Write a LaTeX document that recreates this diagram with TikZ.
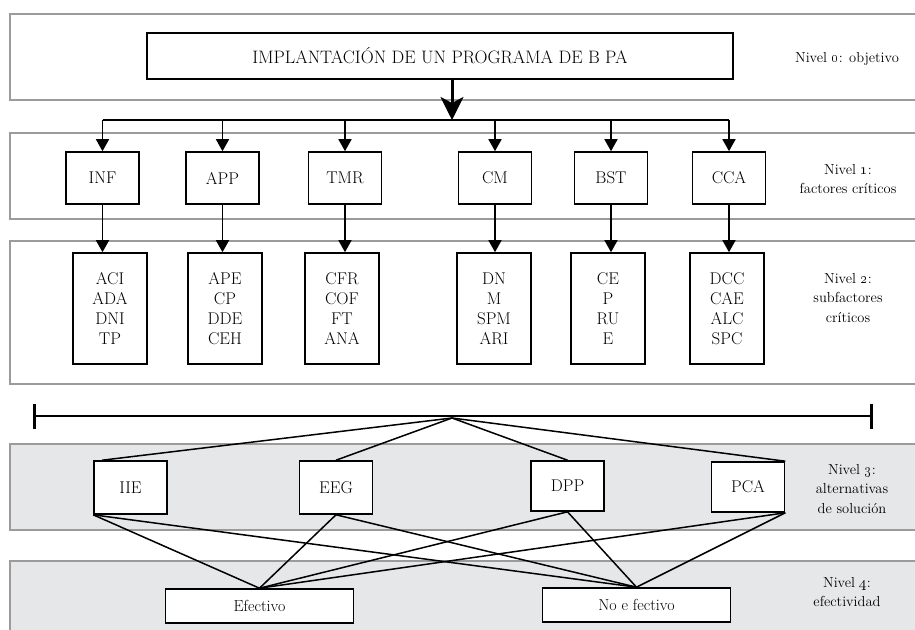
\RequirePackage{fix-cm}
\documentclass[tikz,border=0pt]{standalone}
\usepackage{tikz}
\usetikzlibrary{arrows.meta,calc,positioning}
\definecolor{bandL}{HTML}{9B9B9B}
\definecolor{bandF}{HTML}{E6E7E8}

\begin{document}
\begin{tikzpicture}[x=1pt,y=-1pt,
  band/.style={draw=bandL,line width=1.4pt},
  obj/.style={draw,line width=1.6pt,fill=white,minimum width=586pt,minimum height=46pt,font=\fontsize{18}{20}\selectfont},
  fac/.style={draw,line width=1.6pt,fill=white,minimum width=73pt,minimum height=52pt,inner sep=0pt,font=\fontsize{17}{20}\selectfont},
  sub/.style={fac,minimum width=74pt,minimum height=111pt,align=center},
  alt/.style={fac,minimum height=53pt},
  res/.style={fac,minimum height=34pt,minimum width=188pt,font=\fontsize{16}{18}\selectfont},
  lvl/.style={align=center,font=\fontsize{14.5}{19.5}\selectfont},
  arr/.style={-{Triangle[length=12pt,width=13pt]},line width=1.6pt},
  bigarr/.style={-{Stealth[length=23pt,width=23pt,inset=6pt]},line width=3pt},
  lnk/.style={line width=1.5pt}]
\useasboundingbox (0,0) rectangle (915,629);
\clip (0,0) rectangle (915,629);
% level bands
\draw[band] (10,14) rectangle (940,100);
\draw[band] (10,133) rectangle (940,219);
\draw[band] (10,241) rectangle (940,384);
\draw[band,fill=bandF] (10,444) rectangle (940,530);
\draw[band,fill=bandF] (10,561) rectangle (940,650);
% level 0
\node[obj] (obj) at (440,56) {IMPLANTACI\'ON DE UN PROGRAMA DE B PA};
% level 1 and 2
\foreach \n/\x/\t in {inf/102.5/INF,app/222.5/APP,tmr/345/TMR,cm/495/CM,bst/611/BST,cca/729/CCA}{
  \node[fac] (\n) at (\x,178) {\t};
}
\foreach \n/\x/\t in {aci/110/{ACI\\ADA\\DNI\\TP},ape/225/{APE\\CP\\DDE\\CEH},cfr/342/{CFR\\COF\\FT\\ANA},
  dn/494/{DN\\M\\SPM\\ARI},ce/608/{CE\\P\\RU\\E},dcc/727/{DCC\\CAE\\ALC\\SPC}}{
  \node[sub] (\n) at (\x,308.5) {\t};
}
\coordinate (bus) at (452,120);
\draw[bigarr] ($(obj.south)+(12,0)$) -- (bus);
\draw[line width=1.6pt] (inf.north |- bus) -- (cca.north |- bus);
\foreach \n in {inf,app,tmr,cm,bst,cca}{
  \draw[arr] (\n.north |- bus) -- (\n.north);
}
\foreach \a/\b in {inf/aci,app/ape,tmr/cfr,cm/dn,bst/ce,cca/dcc}{
  \draw[arr] (\a.south) -- (\a.south |- \b.north);
}
% scale
\coordinate (sL) at (33,416);
\coordinate (sR) at (873,416);
\coordinate (apex) at (452,418);
\draw[line width=1.3pt,{Bar[width=25pt,line width=3pt]}-{Bar[width=25pt,line width=3pt]}] (sL) -- (sR);
% level 3 and 4
\node[alt] (iie) at (130.5,487.5) {IIE};
\node[alt] (eeg) at (336,487.5) {EEG};
\node[alt,minimum height=50pt] (dpp) at (567.5,486) {DPP};
\node[alt,minimum height=50pt] (pca) at (748,487) {PCA};
\node[res] (efe) at (259.5,606) {Efectivo};
\node[res] (nef) at (636.5,605) {No e fectivo};
\draw[lnk] ($(iie.north west)+(9,0)$) -- (apex) -- (pca.north east);
\draw[lnk] (eeg.north) -- (apex) -- (dpp.north);
\foreach \p in {iie.south west,eeg.south,dpp.south,pca.south east}{
  \draw[lnk] (\p) -- (efe.north);
  \draw[lnk] (\p) -- (nef.north);
}
% level names
\node[lvl] (n0) at (847,59) {Nivel \oldstylenums{0}: objetivo};
\node[lvl] (n1) at (848,179) {Nivel \oldstylenums{1}:\\factores cr\'{\i}ticos};
\node[lvl] (n2) at (848,298) {Nivel \oldstylenums{2}:\\subfactores\\cr\'{\i}ticos};
\node[lvl] (n3) at (852,489) {Nivel \oldstylenums{3}:\\alternativas\\de soluci\'on};
\node[lvl] (n4) at (847,592) {Nivel \oldstylenums{4}:\\efectividad};
\end{tikzpicture}
\end{document}
